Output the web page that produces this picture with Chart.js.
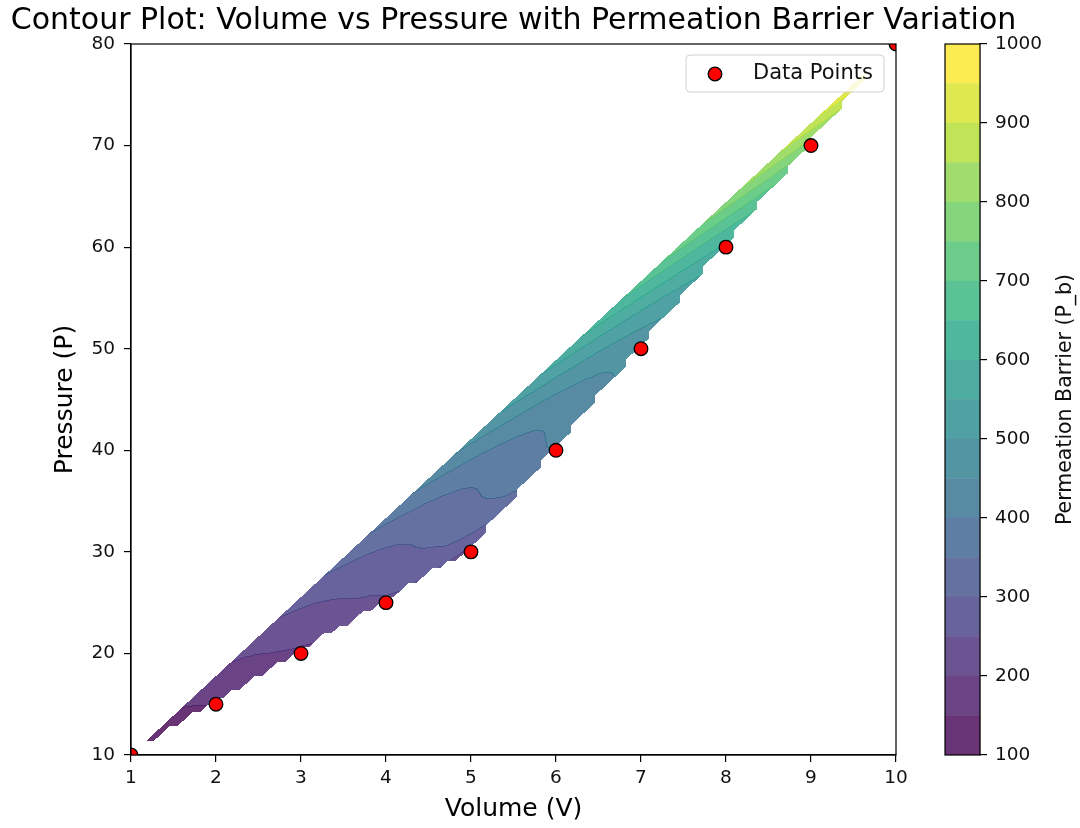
<!DOCTYPE html>
<html>
<head>
<meta charset="utf-8">
<script src="https://cdn.jsdelivr.net/npm/chart.js@4.4.1/dist/chart.umd.min.js"></script>
<style>
  html, body { margin: 0; padding: 0; background: #fff; }
  #wrap { position: relative; width: 1080px; height: 828px; }
  #mainChart { position: absolute; left: 0; top: 0; }
  #barChart { position: absolute; left: 935px; top: 0; }
</style>
</head>
<body>
<div id="wrap">
  <canvas id="mainChart" width="1027" height="828"></canvas>
  <canvas id="barChart" width="145" height="828"></canvas>
</div>
<script>
// data points
const volume = [1, 2, 3, 4, 5, 6, 7, 8, 9, 10];
const pressure = [10, 15, 20, 25, 30, 40, 50, 60, 70, 80];
const barrier = [100, 150, 190, 240, 230, 400, 470, 590, 770, 1000];

// contour levels and tick labels
const levels = [100, 150, 200, 250, 300, 350, 400, 450, 500, 550, 600, 650, 700, 750, 800, 850, 900, 950, 1000];
const xTicks = [1, 2, 3, 4, 5, 6, 7, 8, 9, 10];
const yTicks = [10, 20, 30, 40, 50, 60, 70, 80];
const cbTicks = [100, 200, 300, 400, 500, 600, 700, 800, 900, 1000];

const GRID_N = 100;
const FILL_ALPHA = 0.8;

Chart.defaults.font.family = "'DejaVu Sans', sans-serif";
Chart.defaults.color = "#111";

const viridisStops = ["#440154", "#482475", "#414487", "#355f8d", "#2a788e", "#21918c",
  "#22a884", "#44bf70", "#7ad151", "#bddf26", "#fde725"];

function hexToRgb(h) {
  return [parseInt(h.slice(1, 3), 16), parseInt(h.slice(3, 5), 16), parseInt(h.slice(5, 7), 16)];
}

function viridis(t) {
  const f = Math.max(0, Math.min(1, t)) * 10;
  const k = Math.min(9, Math.floor(f));
  const u = f - k;
  const a = hexToRgb(viridisStops[k]), b = hexToRgb(viridisStops[k + 1]);
  return a.map((v, i) => v + (b[i] - v) * u);
}

// band colour blended over white like alpha=0.8
function bandRgb(k, alpha) {
  const c = viridis(k / (levels.length - 2));
  return c.map(v => Math.round(v * alpha + 255 * (1 - alpha)));
}
const bandColors = levels.slice(0, -1).map((_, k) => bandRgb(k, FILL_ALPHA));
const edgeColors = levels.slice(0, -1).map((_, k) => bandRgb(k, 0.95));

// --- Delaunay (Bowyer-Watson) ---
function triangulate(px, py) {
  const n = px.length;
  const vx = px.slice(), vy = py.slice();
  const big = 1e5;
  vx.push(-big, big, 0);
  vy.push(-big, -big, big);
  let tris = [[n, n + 1, n + 2]];

  function circ(t) {
    const [a, b, c] = t;
    const ax = vx[a], ay = vy[a], bx = vx[b], by = vy[b], cx = vx[c], cy = vy[c];
    const d = 2 * (ax * (by - cy) + bx * (cy - ay) + cx * (ay - by));
    const ux = ((ax * ax + ay * ay) * (by - cy) + (bx * bx + by * by) * (cy - ay) + (cx * cx + cy * cy) * (ay - by)) / d;
    const uy = ((ax * ax + ay * ay) * (cx - bx) + (bx * bx + by * by) * (ax - cx) + (cx * cx + cy * cy) * (bx - ax)) / d;
    return [ux, uy, (ax - ux) ** 2 + (ay - uy) ** 2];
  }

  const sameEdge = (e, f) => (e[0] === f[0] && e[1] === f[1]) || (e[0] === f[1] && e[1] === f[0]);
  const edgesOf = t => [[t[0], t[1]], [t[1], t[2]], [t[2], t[0]]];

  for (let i = 0; i < n; i++) {
    const bad = [], keep = [];
    tris.forEach(t => {
      const [ux, uy, r2] = circ(t);
      ((vx[i] - ux) ** 2 + (vy[i] - uy) ** 2 < r2 * (1 - 1e-12) ? bad : keep).push(t);
    });
    const border = [];
    bad.forEach(t => {
      edgesOf(t).forEach(e => {
        const shared = bad.some(o => o !== t && edgesOf(o).some(f => sameEdge(e, f)));
        if (!shared) border.push(e);
      });
    });
    tris = keep;
    border.forEach(e => tris.push([e[0], e[1], i]));
  }
  return tris.filter(t => t.every(v => v < n));
}

// --- Clough-Tocher cubic interpolation (like griddata method="cubic") ---
const tris = triangulate(volume, pressure);
const nPts = volume.length;

function bary(t, x, y) {
  const [a, b, c] = t;
  const x1 = volume[a], y1 = pressure[a], x2 = volume[b], y2 = pressure[b], x3 = volume[c], y3 = pressure[c];
  const det = (y2 - y3) * (x1 - x3) + (x3 - x2) * (y1 - y3);
  const l1 = ((y2 - y3) * (x - x3) + (x3 - x2) * (y - y3)) / det;
  const l2 = ((y3 - y1) * (x - x3) + (x1 - x3) * (y - y3)) / det;
  return [l1, l2, 1 - l1 - l2];
}

const triNeighbors = tris.map((t, ti) => [0, 1, 2].map(k => {
  const e = t.filter((_, m) => m !== k);
  return tris.findIndex((o, oi) => oi !== ti && o.includes(e[0]) && o.includes(e[1]));
}));

const vertNeighbors = Array.from({ length: nPts }, () => new Set());
tris.forEach(([a, b, c]) => {
  vertNeighbors[a].add(b).add(c);
  vertNeighbors[b].add(a).add(c);
  vertNeighbors[c].add(a).add(b);
});

// global gradient estimate, minimising curvature along edges
const gradX = new Float64Array(nPts), gradY = new Float64Array(nPts);
for (let it = 0; it < 400; it++) {
  let err = 0;
  for (let i = 0; i < nPts; i++) {
    let q0 = 0, q1 = 0, q3 = 0, s0 = 0, s1 = 0;
    vertNeighbors[i].forEach(j => {
      const ex = volume[j] - volume[i], ey = pressure[j] - pressure[i];
      const L3 = Math.pow(ex * ex + ey * ey, 1.5);
      const df2 = -ex * gradX[j] - ey * gradY[j];
      const s = 6 * (barrier[i] - barrier[j]) - 2 * df2;
      q0 += 4 * ex * ex / L3;
      q1 += 4 * ex * ey / L3;
      q3 += 4 * ey * ey / L3;
      s0 += s * ex / L3;
      s1 += s * ey / L3;
    });
    const det = q0 * q3 - q1 * q1;
    const r0 = (q3 * s0 - q1 * s1) / det;
    const r1 = (-q1 * s0 + q0 * s1) / det;
    let change = Math.max(Math.abs(gradX[i] + r0), Math.abs(gradY[i] + r1));
    gradX[i] = -r0;
    gradY[i] = -r1;
    change /= Math.max(1, Math.max(Math.abs(r0), Math.abs(r1)));
    err = Math.max(err, change);
  }
  if (err < 1e-6) break;
}

// Bezier coefficients per triangle
const triCoef = tris.map((t, ti) => {
  const [i0, i1, i2] = t;
  const e12x = volume[i1] - volume[i0], e12y = pressure[i1] - pressure[i0];
  const e23x = volume[i2] - volume[i1], e23y = pressure[i2] - pressure[i1];
  const e31x = volume[i0] - volume[i2], e31y = pressure[i0] - pressure[i2];
  const df12 = gradX[i0] * e12x + gradY[i0] * e12y;
  const df21 = -(gradX[i1] * e12x + gradY[i1] * e12y);
  const df23 = gradX[i1] * e23x + gradY[i1] * e23y;
  const df32 = -(gradX[i2] * e23x + gradY[i2] * e23y);
  const df31 = gradX[i2] * e31x + gradY[i2] * e31y;
  const df13 = -(gradX[i0] * e31x + gradY[i0] * e31y);
  const c = {};
  c.c3000 = barrier[i0];
  c.c2100 = (df12 + 3 * c.c3000) / 3;
  c.c2010 = (df13 + 3 * c.c3000) / 3;
  c.c0300 = barrier[i1];
  c.c1200 = (df21 + 3 * c.c0300) / 3;
  c.c0210 = (df23 + 3 * c.c0300) / 3;
  c.c0030 = barrier[i2];
  c.c1020 = (df31 + 3 * c.c0030) / 3;
  c.c0120 = (df32 + 3 * c.c0030) / 3;
  c.c2001 = (c.c2100 + c.c2010 + c.c3000) / 3;
  c.c0201 = (c.c1200 + c.c0300 + c.c0210) / 3;
  c.c0021 = (c.c1020 + c.c0120 + c.c0030) / 3;

  const g = [0, 1, 2].map(k => {
    const nt = triNeighbors[ti][k];
    if (nt < 0) return -0.5;
    const o = tris[nt];
    const cx = (volume[o[0]] + volume[o[1]] + volume[o[2]]) / 3;
    const cy = (pressure[o[0]] + pressure[o[1]] + pressure[o[2]]) / 3;
    const b = bary(t, cx, cy);
    if (k === 0) return (2 * b[2] + b[1] - 1) / (2 - 3 * b[2] - 3 * b[1]);
    if (k === 1) return (2 * b[0] + b[2] - 1) / (2 - 3 * b[0] - 3 * b[2]);
    return (2 * b[1] + b[0] - 1) / (2 - 3 * b[1] - 3 * b[0]);
  });

  c.c0111 = (g[0] * (-c.c0300 + 3 * c.c0210 - 3 * c.c0120 + c.c0030) +
    (-c.c0300 + 2 * c.c0210 - c.c0120 + c.c0021 + c.c0201)) / 2;
  c.c1011 = (g[1] * (-c.c0030 + 3 * c.c1020 - 3 * c.c2010 + c.c3000) +
    (-c.c0030 + 2 * c.c1020 - c.c2010 + c.c2001 + c.c0021)) / 2;
  c.c1101 = (g[2] * (-c.c3000 + 3 * c.c2100 - 3 * c.c1200 + c.c0300) +
    (-c.c3000 + 2 * c.c2100 - c.c1200 + c.c2001 + c.c0201)) / 2;
  c.c1002 = (c.c1101 + c.c1011 + c.c2001) / 3;
  c.c0102 = (c.c1101 + c.c0111 + c.c0201) / 3;
  c.c0012 = (c.c1011 + c.c0111 + c.c0021) / 3;
  c.c0003 = (c.c1002 + c.c0102 + c.c0012) / 3;
  return c;
});

function cubicAt(x, y) {
  for (let ti = 0; ti < tris.length; ti++) {
    const b = bary(tris[ti], x, y);
    if (b[0] < -1e-7 || b[1] < -1e-7 || b[2] < -1e-7) continue;
    const c = triCoef[ti];
    const m = Math.min(b[0], b[1], b[2]);
    const b1 = b[0] - m, b2 = b[1] - m, b3 = b[2] - m, b4 = 3 * m;
    return b1 ** 3 * c.c3000 + 3 * b1 ** 2 * b2 * c.c2100 + 3 * b1 ** 2 * b3 * c.c2010 +
      3 * b1 ** 2 * b4 * c.c2001 + 3 * b1 * b2 ** 2 * c.c1200 +
      6 * b1 * b2 * b4 * c.c1101 + 3 * b1 * b3 ** 2 * c.c1020 + 6 * b1 * b3 * b4 * c.c1011 +
      3 * b1 * b4 ** 2 * c.c1002 + b2 ** 3 * c.c0300 + 3 * b2 ** 2 * b3 * c.c0210 +
      3 * b2 ** 2 * b4 * c.c0201 + 3 * b2 * b3 ** 2 * c.c0120 + 6 * b2 * b3 * b4 * c.c0111 +
      3 * b2 * b4 ** 2 * c.c0102 + b3 ** 3 * c.c0030 + 3 * b3 ** 2 * b4 * c.c0021 +
      3 * b3 * b4 ** 2 * c.c0012 + b4 ** 3 * c.c0003;
  }
  return NaN;
}

function interpolateGrid() {
  const xmin = Math.min(...volume), xmax = Math.max(...volume);
  const ymin = Math.min(...pressure), ymax = Math.max(...pressure);
  const Z = [];
  for (let j = 0; j < GRID_N; j++) {
    const row = new Float64Array(GRID_N);
    const y = ymin + (ymax - ymin) * j / (GRID_N - 1);
    for (let i = 0; i < GRID_N; i++) {
      row[i] = cubicAt(xmin + (xmax - xmin) * i / (GRID_N - 1), y);
    }
    Z.push(row);
  }
  return { Z, xmin, xmax, ymin, ymax };
}

const field = interpolateGrid();

function bandOf(z) {
  for (let k = levels.length - 2; k >= 0; k--) {
    if (z >= levels[k]) return k;
  }
  return 0;
}

// value inside one grid quad; a quad with one missing corner keeps its other triangle
function quadValue(z00, z10, z01, z11, tx, ty) {
  const m = (isNaN(z00) ? 1 : 0) | (isNaN(z10) ? 2 : 0) | (isNaN(z01) ? 4 : 0) | (isNaN(z11) ? 8 : 0);
  if (m === 0) return z00 * (1 - tx) * (1 - ty) + z10 * tx * (1 - ty) + z01 * (1 - tx) * ty + z11 * tx * ty;
  if (m === 1) return tx + ty >= 1 ? z11 + (z11 - z01) * (tx - 1) + (z11 - z10) * (ty - 1) : NaN;
  if (m === 2) return ty >= tx ? z00 + (z11 - z01) * tx + (z01 - z00) * ty : NaN;
  if (m === 4) return tx >= ty ? z00 + (z10 - z00) * tx + (z11 - z10) * ty : NaN;
  if (m === 8) return tx + ty <= 1 ? z00 + (z10 - z00) * tx + (z01 - z00) * ty : NaN;
  return NaN;
}

const contourPlugin = {
  id: "contourFill",
  beforeDatasetsDraw(chart) {
    const { ctx, chartArea } = chart;
    const xs = chart.scales.x, ys = chart.scales.y;
    const left = Math.round(chartArea.left), top = Math.round(chartArea.top);
    const w = Math.round(chartArea.right) - left, h = Math.round(chartArea.bottom) - top;
    const { Z, xmin, xmax, ymin, ymax } = field;
    const dx = (xmax - xmin) / (GRID_N - 1), dy = (ymax - ymin) / (GRID_N - 1);
    const band = new Int8Array(w * h).fill(-1);

    for (let py = 0; py < h; py++) {
      const yv = ys.getValueForPixel(top + py + 0.5);
      const fj = (yv - ymin) / dy;
      const j = Math.floor(fj);
      if (j < 0 || j >= GRID_N - 1) continue;
      const ty = fj - j;
      for (let px = 0; px < w; px++) {
        const xv = xs.getValueForPixel(left + px + 0.5);
        const fi = (xv - xmin) / dx;
        const i = Math.floor(fi);
        if (i < 0 || i >= GRID_N - 1) continue;
        const z = quadValue(Z[j][i], Z[j][i + 1], Z[j + 1][i], Z[j + 1][i + 1], fi - i, ty);
        if (!isNaN(z)) band[py * w + px] = bandOf(z);
      }
    }

    const off = document.createElement("canvas");
    off.width = w;
    off.height = h;
    const octx = off.getContext("2d");
    const img = octx.createImageData(w, h);
    for (let py = 0; py < h; py++) {
      for (let px = 0; px < w; px++) {
        const b = band[py * w + px];
        if (b < 0) continue;
        const right = px + 1 < w ? band[py * w + px + 1] : b;
        const below = py + 1 < h ? band[(py + 1) * w + px] : b;
        const isEdge = (right >= 0 && right !== b) || (below >= 0 && below !== b);
        const c = isEdge ? edgeColors[Math.max(b, right, below)] : bandColors[b];
        const o = (py * w + px) * 4;
        img.data[o] = c[0];
        img.data[o + 1] = c[1];
        img.data[o + 2] = c[2];
        img.data[o + 3] = 255;
      }
    }
    octx.putImageData(img, 0, 0);
    ctx.drawImage(off, left, top);
  }
};

const framePlugin = {
  id: "frame",
  afterDatasetsDraw(chart) {
    const { ctx, chartArea } = chart;
    ctx.save();
    ctx.strokeStyle = "#000";
    ctx.lineWidth = 1.2;
    ctx.strokeRect(chartArea.left, chartArea.top, chartArea.right - chartArea.left, chartArea.bottom - chartArea.top);
    ctx.restore();
  }
};

const legendPlugin = {
  id: "boxLegend",
  afterDraw(chart) {
    const { ctx, chartArea } = chart;
    const bx = chartArea.right - 210, by = chartArea.top + 11, bw = 198, bh = 37;
    ctx.save();
    ctx.beginPath();
    ctx.roundRect(bx, by, bw, bh, 4);
    ctx.fillStyle = "rgba(255,255,255,0.8)";
    ctx.fill();
    ctx.strokeStyle = "#d0d0d0";
    ctx.lineWidth = 1;
    ctx.stroke();
    ctx.beginPath();
    ctx.arc(bx + 29, by + 19, 6.8, 0, Math.PI * 2);
    ctx.fillStyle = "red";
    ctx.fill();
    ctx.strokeStyle = "#000";
    ctx.lineWidth = 1.3;
    ctx.stroke();
    ctx.fillStyle = "#111";
    ctx.font = "21px 'DejaVu Sans', sans-serif";
    ctx.textBaseline = "middle";
    ctx.textAlign = "left";
    ctx.fillText("Data Points", bx + 67, by + 19);
    ctx.restore();
  }
};

const mainCtx = document.getElementById("mainChart").getContext("2d");
new Chart(mainCtx, {
  type: "scatter",
  data: {
    datasets: [{
      label: "Data Points",
      data: volume.map((v, i) => ({ x: v, y: pressure[i] })),
      backgroundColor: "red",
      borderColor: "#000",
      borderWidth: 1.3,
      pointRadius: 6.8,
      clip: 0
    }]
  },
  options: {
    responsive: false,
    animation: false,
    events: [],
    layout: { padding: 0 },
    plugins: {
      legend: { display: false },
      tooltip: { enabled: false },
      title: {
        display: true,
        text: "Contour Plot: Volume vs Pressure with Permeation Barrier Variation",
        color: "#000",
        font: { size: 30, weight: "normal" },
        padding: { top: 3, bottom: 5 }
      }
    },
    scales: {
      x: {
        type: "linear",
        min: 1,
        max: 10,
        afterBuildTicks: s => { s.ticks = xTicks.map(v => ({ value: v })); },
        afterFit: s => { s.height = 73; },
        ticks: { font: { size: 18.5 }, color: "#111", padding: 5, callback: v => String(v) },
        grid: { drawOnChartArea: false, tickLength: 7, color: "#000", lineWidth: 1.2 },
        border: { color: "#000", width: 1.2 },
        title: { display: true, text: "Volume (V)", color: "#000", font: { size: 25 }, padding: { top: 0, bottom: 4 } }
      },
      y: {
        type: "linear",
        min: 10,
        max: 80,
        afterBuildTicks: s => { s.ticks = yTicks.map(v => ({ value: v })); },
        afterFit: s => { s.width = 131; },
        ticks: { font: { size: 18.5 }, color: "#111", padding: 9, callback: v => String(v) },
        grid: { drawOnChartArea: false, tickLength: 7, color: "#000", lineWidth: 1.2 },
        border: { color: "#000", width: 1.2 },
        title: { display: true, text: "Pressure (P)", color: "#000", font: { size: 25 }, padding: { top: 50, bottom: 0 } }
      },
      yRight: {
        position: "right",
        display: true,
        afterFit: s => { s.width = 131; },
        ticks: { display: false },
        grid: { display: false },
        border: { display: false }
      }
    }
  },
  plugins: [contourPlugin, framePlugin, legendPlugin]
});

// colour bar: one floating bar per contour band
const cbLabelPlugin = {
  id: "cbLabel",
  afterDraw(chart) {
    const { ctx, chartArea } = chart;
    ctx.save();
    ctx.strokeStyle = "#000";
    ctx.lineWidth = 1.2;
    ctx.strokeRect(chartArea.left, chartArea.top, chartArea.right - chartArea.left, chartArea.bottom - chartArea.top);
    ctx.translate(131, (chartArea.top + chartArea.bottom) / 2);
    ctx.rotate(-Math.PI / 2);
    ctx.fillStyle = "#111";
    ctx.font = "20.5px 'DejaVu Sans', sans-serif";
    ctx.textAlign = "center";
    ctx.textBaseline = "middle";
    ctx.fillText("Permeation Barrier (P_b)", 0, 0);
    ctx.restore();
  }
};

const barCtx = document.getElementById("barChart").getContext("2d");
new Chart(barCtx, {
  type: "bar",
  data: {
    labels: [""],
    datasets: levels.slice(0, -1).map((lo, k) => ({
      data: [[lo, levels[k + 1]]],
      backgroundColor: "rgb(" + bandColors[k].join(",") + ")",
      borderWidth: 0,
      grouped: false,
      barPercentage: 1,
      categoryPercentage: 1
    }))
  },
  options: {
    responsive: false,
    animation: false,
    events: [],
    layout: { padding: { top: 44, bottom: 73, left: 10, right: 0 } },
    plugins: { legend: { display: false }, tooltip: { enabled: false } },
    scales: {
      x: { display: false },
      y: {
        position: "right",
        min: 100,
        max: 1000,
        afterBuildTicks: s => { s.ticks = cbTicks.map(v => ({ value: v })); },
        afterFit: s => { s.width = 100; },
        ticks: { font: { size: 18.5 }, color: "#111", padding: 8, callback: v => String(v) },
        grid: { drawOnChartArea: false, tickLength: 7, color: "#000", lineWidth: 1.2 },
        border: { color: "#000", width: 1.2 }
      }
    }
  },
  plugins: [cbLabelPlugin]
});
</script>
</body>
</html>
